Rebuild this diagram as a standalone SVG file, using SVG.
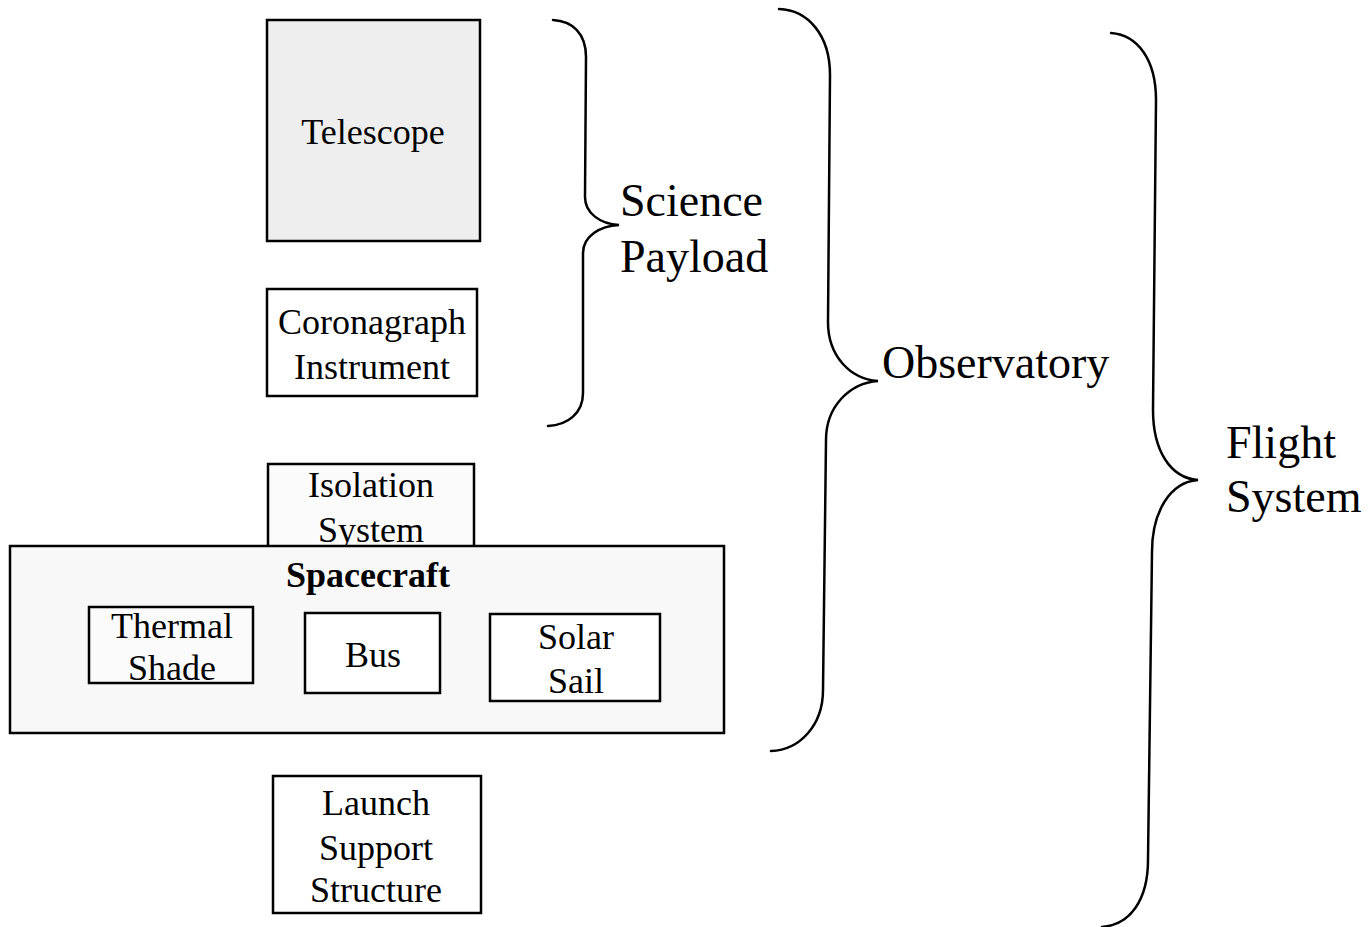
<svg xmlns="http://www.w3.org/2000/svg" width="1371" height="927" viewBox="0 0 1371 927">
<style>
.box{fill:#ffffff;stroke:#000;stroke-width:2.5}
.t{font-family:"Liberation Serif","Times New Roman",serif;font-size:36px;fill:#000;text-anchor:middle}
.b{font-weight:bold}
.big{font-family:"Liberation Serif","Times New Roman",serif;font-size:46px;fill:#000}
.brace{fill:none;stroke:#000;stroke-width:2.5;stroke-linecap:round}
</style>
<rect width="1371" height="927" fill="#ffffff"/>
<g id="telescope">
<rect class="box" x="267" y="20" width="213" height="221" style="fill:#eeeeee"/>
<text class="t" x="373" y="144">Telescope</text>
</g>
<g id="coronagraph">
<rect class="box" x="267" y="289" width="210" height="107"/>
<text class="t" x="372" y="334">Coronagraph</text>
<text class="t" x="372" y="379">Instrument</text>
</g>
<g id="isolation">
<rect class="box" x="268" y="464" width="206" height="84" style="fill:#fbfbfb"/>
<text class="t" x="371" y="497">Isolation</text>
<text class="t" x="371" y="542">System</text>
</g>
<g id="spacecraft">
<rect class="box" x="10" y="546" width="714" height="187" style="fill:#f8f8f8"/>
<text class="t b" x="368" y="587">Spacecraft</text>
</g>
<g id="thermal">
<rect class="box" x="89" y="607" width="164" height="76" style="fill:#fbfbfb"/>
<text class="t" x="172" y="638">Thermal</text>
<text class="t" x="172" y="680">Shade</text>
</g>
<g id="bus">
<rect class="box" x="305" y="613" width="135" height="80"/>
<text class="t" x="373" y="667">Bus</text>
</g>
<g id="solar">
<rect class="box" x="490" y="614" width="170" height="87"/>
<text class="t" x="576" y="649">Solar</text>
<text class="t" x="576" y="693">Sail</text>
</g>
<g id="launch">
<rect class="box" x="273" y="776" width="208" height="137"/>
<text class="t" x="376" y="815">Launch</text>
<text class="t" x="376" y="860">Support</text>
<text class="t" x="376" y="902">Structure</text>
</g>
<g id="connectors">
<path class="brace" d="M 553 20 C 572 21 586 33 586 57 L 585 197 C 585 213 600 224 619 225 C 600 226 583 236 583 253 L 583 393 C 583 413 568 425 548 426"/>
<path class="brace" d="M 779 9 C 808 10 830 35 830 75 L 828 322 C 828 356 850 379 878 381 C 850 383 826 406 826 440 L 823 690 C 823 725 800 750 771 751"/>
<path class="brace" d="M 1111 33 C 1138 35 1156 60 1156 100 L 1153 410 C 1153 450 1170 478 1198 480 C 1170 482 1152 512 1152 552 L 1148 860 C 1148 900 1130 925 1102 927"/>
</g>
<g id="labels">
<text class="big" x="620" y="216">Science</text>
<text class="big" x="620" y="272">Payload</text>
<text class="big" x="882" y="378">Observatory</text>
<text class="big" x="1226" y="458">Flight</text>
<text class="big" x="1226" y="512">System</text>
</g>
</svg>
